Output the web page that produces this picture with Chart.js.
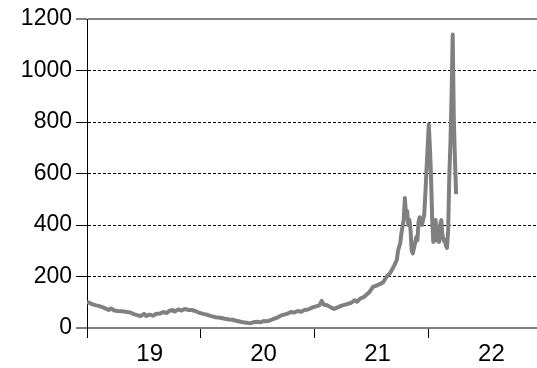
<!DOCTYPE html>
<html>
<head>
<meta charset="utf-8">
<script src="https://cdn.jsdelivr.net/npm/chart.js@4/dist/chart.umd.min.js"></script>
<style>
  html, body { margin: 0; padding: 0; background: #fff; }
  #wrap { width: 537px; height: 368px; }
</style>
</head>
<body>
<div id="wrap"><canvas id="canvas"></canvas></div>
<script>
// x = year (decimal), y = index value
var years = [
  2019.00, 2019.02, 2019.05, 2019.08, 2019.11, 2019.14, 2019.17, 2019.19, 2019.21, 2019.24,
  2019.27, 2019.31, 2019.35, 2019.38, 2019.41, 2019.44, 2019.47, 2019.50, 2019.52, 2019.55,
  2019.58, 2019.61, 2019.64, 2019.67, 2019.70, 2019.72, 2019.75, 2019.77, 2019.80, 2019.83,
  2019.86, 2019.89, 2019.92, 2019.95, 2019.98, 2020.02, 2020.05, 2020.09, 2020.13, 2020.17,
  2020.21, 2020.25, 2020.28, 2020.31, 2020.34, 2020.37, 2020.40, 2020.43, 2020.46, 2020.49,
  2020.52, 2020.55, 2020.58, 2020.61, 2020.64, 2020.67, 2020.70, 2020.73, 2020.76, 2020.79,
  2020.82, 2020.85, 2020.88, 2020.91, 2020.94, 2020.98, 2021.01, 2021.04, 2021.06, 2021.08,
  2021.11, 2021.14, 2021.17, 2021.20, 2021.23, 2021.26, 2021.29, 2021.32, 2021.35, 2021.37,
  2021.40, 2021.43, 2021.46, 2021.48, 2021.51, 2021.54, 2021.57, 2021.60, 2021.63, 2021.66,
  2021.68, 2021.70, 2021.72, 2021.73, 2021.75, 2021.76, 2021.78, 2021.79, 2021.80, 2021.81,
  2021.82, 2021.83, 2021.84, 2021.85, 2021.86, 2021.87, 2021.88, 2021.89, 2021.90, 2021.91,
  2021.92, 2021.94, 2021.95, 2021.96, 2021.97, 2021.98, 2022.00, 2022.01, 2022.02, 2022.03,
  2022.04, 2022.05, 2022.06, 2022.07, 2022.08, 2022.09, 2022.10, 2022.11, 2022.12, 2022.13,
  2022.14, 2022.15, 2022.16, 2022.17, 2022.18, 2022.19, 2022.20, 2022.21, 2022.22, 2022.23,
  2022.24
];
var values = [
  100, 98, 92, 88, 85, 80, 74, 70, 76, 68,
  66, 65, 62, 60, 54, 50, 46, 55, 47, 52,
  48, 55, 56, 62, 58, 66, 70, 64, 72, 68,
  74, 70, 70, 66, 60, 55, 52, 46, 42, 40,
  36, 33, 32, 28, 25, 22, 20, 18, 22, 24,
  22, 27, 26, 30, 36, 40, 48, 52, 56, 62,
  60, 66, 63, 70, 72, 80, 84, 88, 105, 90,
  88, 80, 74, 80, 86, 90, 94, 98, 108, 102,
  115, 120, 132, 140, 160, 165, 170, 178, 200, 213,
  228, 245, 265, 300, 330, 369, 420, 505, 440, 455,
  400, 420, 380, 300, 290, 310, 330, 353, 340, 410,
  430, 400, 420, 440, 520, 613, 790, 700, 586, 420,
  334, 380, 419, 340, 370, 334, 400, 419, 360, 340,
  342, 320, 311, 380, 586, 718, 900, 1140, 808, 650,
  520
];

var yearTicks = [2019, 2020, 2021, 2022];
var yearLabels = ['19', '20', '21', '22'];
var yTicks = [0, 200, 400, 600, 800, 1000, 1200];

var points = [];
for (var i = 0; i < years.length; i++) {
  points.push({ x: years[i], y: values[i] });
}

var labelOffset = 0.55;
var FONT = "'Liberation Sans', Arial, sans-serif";

var config = {
  type: 'line',
  data: {
    datasets: [{
      data: points,
      borderColor: '#808080',
      borderWidth: 4,
      pointRadius: 0,
      tension: 0,
      fill: false,
      borderJoinStyle: 'round'
    }]
  },
  options: {
    responsive: true,
    maintainAspectRatio: false,
    animation: false,
    layout: { padding: { top: 19, left: 0, right: 0, bottom: 0 } },
    plugins: {
      legend: { display: false },
      tooltip: { enabled: false },
      title: { display: false }
    },
    scales: {
      x: {
        type: 'linear',
        min: 2019,
        max: 2022.95,
        afterBuildTicks: function(scale) {
          var t = [];
          for (var k = 0; k < yearTicks.length; k++) {
            t.push({ value: yearTicks[k] });
            t.push({ value: yearTicks[k] + labelOffset });
          }
          scale.ticks = t;
        },
        afterFit: function(scale) { scale.height = 40; },
        ticks: {
          autoSkip: false,
          maxRotation: 0,
          padding: 2,
          color: '#000',
          font: { family: FONT, size: 24 },
          callback: function(v) {
            var idx = yearTicks.indexOf(Math.round((v - labelOffset) * 100) / 100);
            return idx >= 0 ? yearLabels[idx] : '';
          }
        },
        grid: {
          drawOnChartArea: false,
          drawTicks: true,
          tickLength: 10,
          tickWidth: 1,
          tickColor: function(ctx) {
            if (!ctx.tick) return '#000';
            return yearTicks.indexOf(ctx.tick.value) >= 0 ? '#000' : 'rgba(0,0,0,0)';
          }
        },
        border: { display: true, color: '#808080', width: 2 }
      },
      y: {
        min: 0,
        max: 1200,
        afterBuildTicks: function(scale) {
          scale.ticks = yTicks.map(function(v) { return { value: v }; });
        },
        afterFit: function(scale) { scale.width = 87; },
        ticks: {
          padding: 4,
          color: '#000',
          font: { family: FONT, size: 23 },
          callback: function(v) { return String(v); }
        },
        grid: {
          drawTicks: true,
          tickLength: 11,
          tickColor: '#000',
          tickWidth: 1,
          color: function(ctx) {
            if (!ctx.tick) return '#000';
            if (ctx.tick.value === 1200 || ctx.tick.value === 0) return '#808080';
            return '#000';
          },
          lineWidth: function(ctx) {
            if (!ctx.tick) return 1;
            if (ctx.tick.value === 1200 || ctx.tick.value === 0) return 2;
            return 1;
          }
        },
        border: {
          display: true,
          color: '#000',
          width: 1,
          dash: function(ctx) {
            if (!ctx.tick) return [];
            if (ctx.tick.value === 1200 || ctx.tick.value === 0) return [];
            return [3, 2];
          }
        }
      }
    }
  }
};

var ctx = document.getElementById('canvas').getContext('2d');
window.myLine = new Chart(ctx, config);
</script>
</body>
</html>
